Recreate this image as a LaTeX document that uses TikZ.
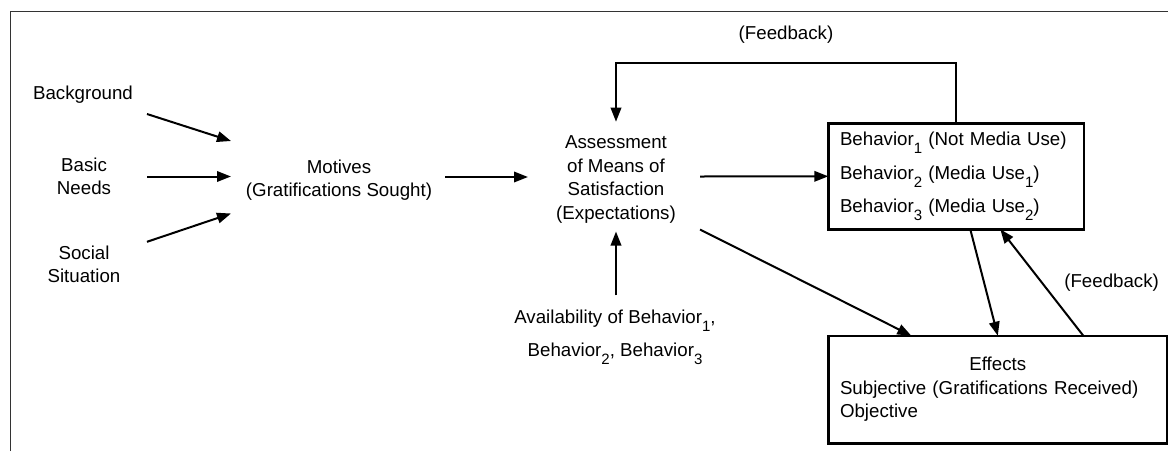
\documentclass[tikz,border=0pt]{standalone}
\usepackage{fontspec}
\setmainfont{Liberation Sans}
\usepackage{tikz}
\usetikzlibrary{arrows.meta,positioning,calc}

\newcommand{\lowsub}[1]{\raisebox{-8pt}{\fontsize{15}{15}\selectfont #1}}

\begin{document}
\begin{tikzpicture}[x=1pt, y=-1pt,
    every node/.style={inner sep=0pt, align=center, font=\fontsize{18.7}{23.5}\selectfont},
    subtext/.style={font=\fontsize{18.7}{33.4}\selectfont},
    box/.style={draw, line width=2.4pt, outer sep=0pt, anchor=north west, inner xsep=11.7pt, align=left},
    arr/.style={line width=2pt, -{Triangle[length=14pt, width=10.5pt]}}]
    \useasboundingbox (0,0) rectangle (1168,451);
    \draw[black!80, line width=1.2pt] (10.3,451) -- (10.3,11.7) -- (1168,11.7);

    \node (bg) at (83,95) {Background};
    \node (needs) at (84,176.5) {Basic\\Needs};
    \node (social) at (84,264.3) {Social\\Situation};
    \node (mot) at (339,180) {Motives\\(Gratifications Sought)};
    \node (assess) at (616,179.5) {Assessment\\of Means of\\Satisfaction\\(Expectations)};
    \node[subtext] (avail) at (615,337.3) {Availability of Behavior\lowsub{1},\\Behavior\lowsub{2}, Behavior\lowsub{3}};
    \node[box, subtext, minimum width=255.4pt, minimum height=106pt, text width=232pt] (beh) at (828.3,123.3)
        {Behavior\lowsub{1} (Not Media Use)\\Behavior\lowsub{2} (Media Use\lowsub{1})\\Behavior\lowsub{3} (Media Use\lowsub{2})};
    \node[box, minimum width=339pt, minimum height=107.6pt, text width=315.6pt] (eff) at (828.3,335.7)
        {\hfill Effects\hfill\null\\Subjective (Gratifications Received)\\Objective};

    \draw[arr] ([shift={(64,19)}]bg.center) -- ([shift={(-108,-39)}]mot.center);
    \draw[arr] ([shift={(63,0)}]needs.center) -- ([shift={(-108,-3.5)}]mot.center);
    \draw[arr] ([shift={(63,-22.5)}]social.center) -- ([shift={(-108,33.5)}]mot.center);
    \draw[arr] ([shift={(106,-3)}]mot.center) -- ([shift={(-88,-2.5)}]assess.center);
    \draw[arr] ([shift={(84,-3)}]assess.center) -- (beh.west);
    \draw[arr] ([shift={(1,-42)}]avail.center) -- ([shift={(0,52)}]assess.center);
    \draw[arr] ([shift={(84,50)}]assess.center) -- ([xshift=83pt]eff.north west);
    \draw[arr] ([xshift=142pt]beh.south west) -- (eff.north);
    \draw[arr] ([xshift=255pt]eff.north west) -- node[midway, right=21.5pt] {(Feedback)} ([xshift=172pt]beh.south west);
    \draw[arr] (beh.north) -- ++(0,-60.6) -| node[pos=0.25, above=18pt] {(Feedback)} ([yshift=14pt]assess.north);
\end{tikzpicture}
\end{document}
